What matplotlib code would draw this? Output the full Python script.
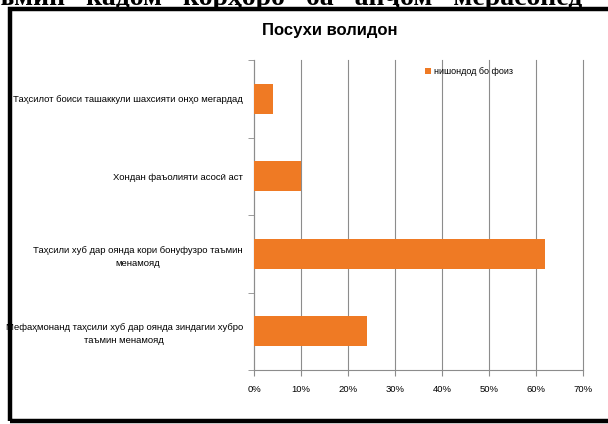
import matplotlib
matplotlib.use('Agg')
import matplotlib.pyplot as plt
from matplotlib.patches import Rectangle
from matplotlib.ticker import FixedLocator, PercentFormatter

plt.rcParams['font.family'] = ['Liberation Sans', 'DejaVu Sans']

title = 'Посухи волидон'
series_name = 'нишондод бо фоиз'
categories = [
    'Таҳсилот боиси ташаккули шахсияти онҳо мегардад',
    'Хондан фаъолияти асосӣ аст',
    'Таҳсили хуб дар оянда кори бонуфузро таъмин\nменамояд',
    'Мефаҳмонанд таҳсили хуб дар оянда зиндагии хубро\nтаъмин менамояд',
]
values = [4, 10, 62, 24]
xticks = [0, 10, 20, 30, 40, 50, 60, 70]

W, H = 608, 424
fig = plt.figure(figsize=(W / 100, H / 100), dpi=100)

# clipped line of the surrounding document text
fig.text(-0.004, 1 - 5 / H, 'ъмин   кадом   корҳоро   ба   анҷом   мерасонед',
         family=['Liberation Serif', 'DejaVu Serif'], fontweight='bold',
         fontsize=20, va='baseline', ha='left')

# page frame
fig.patches.append(Rectangle((10 / W, 3 / H), (W + 20) / W, (H - 12) / H,
                             transform=fig.transFigure, fill=False,
                             edgecolor='black', linewidth=3.2, zorder=5))

ax = fig.add_axes([254 / W, 1 - 370 / H, (583 - 254) / W, (370 - 60) / H])
y = list(range(len(categories)))
ax.barh(y, values, height=0.39, color='#EF7A24', label=series_name, zorder=3)
ax.set_ylim(len(categories) - 0.5, -0.5)
ax.set_xlim(0, 70)

ax.set_yticks(y)
ax.set_yticklabels(categories, fontsize=6.8, ha='right', multialignment='center',
                   linespacing=1.6)
ax.tick_params(axis='y', which='major', length=0, pad=8)
ax.yaxis.set_minor_locator(FixedLocator([i - 0.5 for i in range(len(categories) + 1)]))
ax.tick_params(axis='y', which='minor', length=4, color='#8c8c8c')

ax.set_xticks(xticks)
ax.xaxis.set_major_formatter(PercentFormatter(decimals=0))
ax.tick_params(axis='x', length=4, color='#8c8c8c', labelsize=6.8, pad=7)

ax.grid(axis='x', color='#8c8c8c', linewidth=0.8, zorder=0)
for gl in ax.get_xgridlines():
    gl.set_clip_on(False)
for s in ['top', 'right']:
    ax.spines[s].set_visible(False)
for s in ['left', 'bottom']:
    ax.spines[s].set_color('#8c8c8c')

fig.text(330 / W, 1 - 30 / H, title, ha='center', va='center',
         fontsize=12, fontweight='bold')

ax.legend(loc='upper left', bbox_to_anchor=((420 - 254) / (583 - 254), 0.995),
          frameon=False, fontsize=6.5, handlelength=0.6, handleheight=0.6,
          handletextpad=0.3, borderaxespad=0.2)

fig.savefig('out.png', dpi=100)
